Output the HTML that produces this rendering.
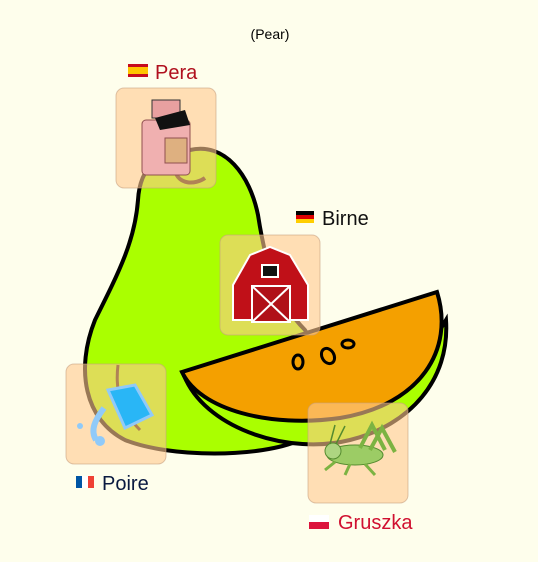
<!DOCTYPE html>
<html><head><meta charset="utf-8"><style>
body{margin:0;background:#fefeec;font-family:"Liberation Sans",sans-serif}
svg{display:block}
.lbl{font-family:"Liberation Sans",sans-serif;font-size:20px}
</style></head><body>
<svg width="538" height="562" viewBox="0 0 538 562">
<rect width="538" height="562" fill="#fefeec"/>
<text x="270" y="39" text-anchor="middle" font-size="14">(Pear)</text>
<g>
<path d="M190,150 C225,142 250,175 258,215 C265,260 275,300 305,330 C330,370 330,420 300,440 C260,458 170,458 125,440 C85,420 75,370 95,320 C120,270 135,240 138,200 C140,165 160,152 190,150 Z" fill="#aaff00" stroke="#000" stroke-width="4"/>
<path d="M175,170 C178,185 195,185 205,178" fill="none" stroke="#3a1a00" stroke-width="4"/>
<path d="M118,365 C115,390 120,410 140,430" fill="none" stroke="#3a1a00" stroke-width="3"/>
</g>
<g>
<path d="M186,380 C210,430 290,455 350,440 C410,425 450,380 446,320 L440,330 C420,390 260,420 186,380 Z" fill="#aaff00" stroke="#000" stroke-width="4"/>
<path d="M182,372 L437,292 C455,350 420,405 340,418 C270,428 200,410 182,372 Z" fill="#f4a000" stroke="#000" stroke-width="4"/>
<ellipse cx="298" cy="362" rx="5" ry="7" fill="none" stroke="#000" stroke-width="3"/>
<ellipse cx="328" cy="356" rx="6" ry="8" transform="rotate(-30 328 356)" fill="none" stroke="#000" stroke-width="3"/>
<ellipse cx="348" cy="344" rx="6" ry="4" fill="none" stroke="#000" stroke-width="3"/>
</g>
<g>
<rect x="116" y="88" width="100" height="100" rx="8" fill="#ffc890" fill-opacity="0.6" stroke="#c8a080" stroke-opacity="0.6"/>
<rect x="142" y="120" width="48" height="55" rx="4" fill="#f0b0b0" stroke="#905050"/>
<rect x="165" y="138" width="22" height="25" fill="#deb080" stroke="#905050"/>
<rect x="152" y="100" width="28" height="18" fill="#e8a0a0" stroke="#333"/>
<path d="M155,118 L185,110 L190,125 L160,130 Z" fill="#111"/>
<rect x="128" y="64" width="20" height="13" fill="#c60b1e"/><rect x="128" y="67" width="20" height="7" fill="#ffc400"/>
<text class="lbl" x="155" y="79" fill="#b0101e">Pera</text>
</g>
<g>
<rect x="220" y="235" width="100" height="100" rx="8" fill="#ffc890" fill-opacity="0.6" stroke="#c8a080" stroke-opacity="0.6"/>
<path d="M233,320 L233,285 L250,255 L270,247 L290,255 L308,285 L308,320 Z" fill="#c01018" stroke="#fff" stroke-width="2"/>
<rect x="262" y="265" width="16" height="12" fill="#111" stroke="#fff" stroke-width="2"/>
<rect x="252" y="286" width="38" height="36" fill="#b01018" stroke="#fff" stroke-width="2"/>
<path d="M252,286 L290,322 M290,286 L252,322" stroke="#fff" stroke-width="2"/>
<rect x="296" y="211" width="18" height="4" fill="#000"/><rect x="296" y="215" width="18" height="4" fill="#dd0000"/><rect x="296" y="219" width="18" height="4" fill="#ffce00"/>
<text class="lbl" x="322" y="225" fill="#111">Birne</text>
</g>
<g>
<rect x="66" y="364" width="100" height="100" rx="8" fill="#ffc890" fill-opacity="0.6" stroke="#c8a080" stroke-opacity="0.6"/>
<path d="M108,390 L135,385 L152,415 L125,428 Z" fill="#29b6f6" stroke="#90caf9" stroke-width="3"/>
<path d="M104,408 C95,420 90,430 96,440" stroke="#90caf9" stroke-width="6" fill="none"/>
<circle cx="80" cy="426" r="3" fill="#90caf9"/><circle cx="100" cy="441" r="5" fill="#90caf9"/>
<rect x="76" y="476" width="6" height="12" fill="#0055a4"/><rect x="82" y="476" width="6" height="12" fill="#fff"/><rect x="88" y="476" width="6" height="12" fill="#ef4135"/>
<text class="lbl" x="102" y="490" fill="#0a1a40">Poire</text>
</g>
<g>
<rect x="308" y="403" width="100" height="100" rx="8" fill="#ffc890" fill-opacity="0.6" stroke="#c8a080" stroke-opacity="0.6"/>
<ellipse cx="355" cy="455" rx="28" ry="10" fill="#9ccc65" stroke="#558b2f"/>
<circle cx="333" cy="451" r="8" fill="#aed581" stroke="#558b2f"/>
<path d="M360,448 L372,425 L385,450 M370,450 L382,428 L395,452" stroke="#7cb342" stroke-width="4" fill="none"/>
<path d="M330,444 L335,425 M336,444 L345,426" stroke="#558b2f" stroke-width="1.5"/>
<path d="M335,462 L325,470 M350,464 L345,475 M365,464 L375,475" stroke="#7cb342" stroke-width="3"/>
<rect x="309" y="515" width="20" height="7" fill="#fff"/><rect x="309" y="522" width="20" height="7" fill="#dc143c"/>
<text class="lbl" x="338" y="529" fill="#d01030">Gruszka</text>
</g>
</svg>
</body></html>
